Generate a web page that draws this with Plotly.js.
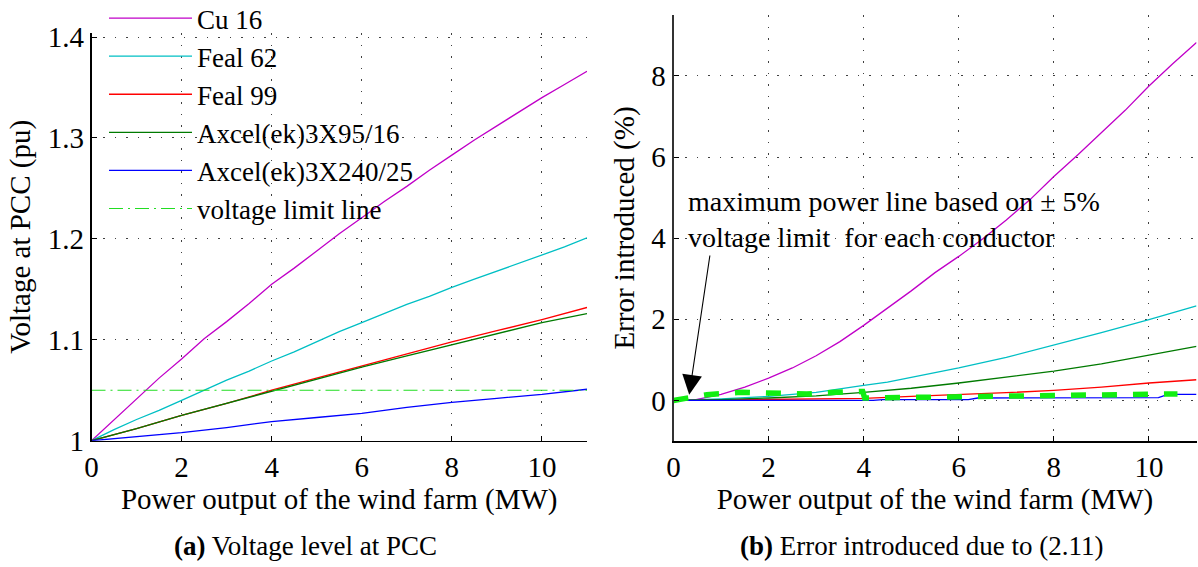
<!DOCTYPE html>
<html>
<head>
<meta charset="utf-8">
<script src="https://cdn.plot.ly/plotly-3.0.1.min.js"></script>
<style>
  html, body { margin: 0; padding: 0; background: #fff; }
  #chart { width: 1198px; height: 567px; }
</style>
</head>
<body>
<div id="chart"></div>
<script>
// ---------- DATA ----------
var seriesNames = ["Cu 16", "Feal 62", "Feal 99", "Axcel(ek)3X95/16", "Axcel(ek)3X240/25"];
var seriesColors = ["#c000c8", "#00bfc4", "#ff0000", "#007a00", "#0000ff"];

// (a) Voltage at PCC (pu)
var vX_cu16 = [0, 0.5, 1, 1.5, 2, 2.5, 3, 3.5, 4, 4.5, 5, 5.5, 6, 6.5, 7, 7.5, 8, 8.5, 9, 9.5, 10, 10.5, 11];
var vY_cu16 = [1.0, 1.021, 1.042, 1.062, 1.081, 1.101, 1.118, 1.136, 1.155, 1.171, 1.188, 1.205, 1.221, 1.237, 1.252, 1.268, 1.283, 1.298, 1.312, 1.326, 1.340, 1.353, 1.366];
var vX_feal62 = [0, 0.5, 1, 1.5, 2, 2.5, 3, 3.5, 4, 4.5, 5, 5.5, 6, 6.5, 7, 7.5, 8, 8.5, 9, 9.5, 10, 10.5, 11];
var vY_feal62 = [1.0, 1.011, 1.021, 1.030, 1.040, 1.050, 1.060, 1.069, 1.079, 1.088, 1.098, 1.108, 1.117, 1.126, 1.135, 1.143, 1.152, 1.160, 1.168, 1.176, 1.184, 1.192, 1.201];
var vX_feal99 = [0, 1, 2, 3, 4, 5, 6, 7, 8, 9, 10, 11];
var vY_feal99 = [1.0, 1.012, 1.025, 1.037, 1.050, 1.062, 1.074, 1.086, 1.098, 1.109, 1.120, 1.132];
var vX_ax95 = [0, 1, 2, 3, 4, 5, 6, 7, 8, 9, 10, 11];
var vY_ax95 = [1.0, 1.012, 1.025, 1.037, 1.049, 1.061, 1.073, 1.084, 1.095, 1.106, 1.117, 1.126];
var vX_ax240 = [0, 1, 2, 3, 4, 5, 6, 7, 8, 9, 10, 11];
var vY_ax240 = [1.0, 1.004, 1.008, 1.013, 1.019, 1.023, 1.027, 1.033, 1.038, 1.042, 1.046, 1.051];
var limitX = [0, 11];
var limitY = [1.05, 1.05];

// (b) Error introduced (%)
var eX_cu16 = [0, 0.4, 1, 1.5, 2, 2.5, 3, 3.5, 4, 4.5, 5, 5.5, 6, 6.5, 7, 7.5, 8, 8.5, 9, 9.5, 10, 10.5, 11];
var eY_cu16 = [0, 0, 0.15, 0.33, 0.55, 0.80, 1.10, 1.45, 1.85, 2.27, 2.70, 3.15, 3.55, 3.98, 4.45, 4.95, 5.52, 6.05, 6.60, 7.15, 7.75, 8.30, 8.82];
var eX_feal62 = [0, 1, 2, 3, 4, 4.5, 5, 6, 7, 8, 9, 10, 11];
var eY_feal62 = [0, 0.04, 0.10, 0.20, 0.37, 0.45, 0.57, 0.80, 1.06, 1.36, 1.67, 1.99, 2.33];
var eX_feal99 = [0, 1, 2, 3, 4, 5, 6, 7, 8, 9, 10, 11];
var eY_feal99 = [0, 0.01, 0.02, 0.03, 0.05, 0.10, 0.14, 0.19, 0.25, 0.33, 0.43, 0.51];
var eX_ax95 = [0, 1, 2, 3, 4, 5, 6, 7, 8, 9, 10, 11];
var eY_ax95 = [0, 0.02, 0.06, 0.11, 0.20, 0.30, 0.43, 0.58, 0.72, 0.90, 1.12, 1.33];
var eX_ax240 = [0, 4.2, 4.4, 6.2, 6.4, 8, 10.2, 10.4, 11];
var eY_ax240 = [0, 0, 0.02, 0.02, 0.06, 0.065, 0.07, 0.15, 0.15];
var maxPowerX = [0, 0.7, 1.4, 2.1, 2.8, 3.4, 3.98, 4.02, 5, 6, 7, 8, 9, 10, 10.6];
var maxPowerY = [0, 0.14, 0.20, 0.17, 0.16, 0.20, 0.22, 0.06, 0.07, 0.08, 0.10, 0.11, 0.13, 0.14, 0.16];

var xTicks = [0, 2, 4, 6, 8, 10];
var vTicks = [1, 1.1, 1.2, 1.3, 1.4];
var vTickText = ["1", "1.1", "1.2", "1.3", "1.4"];
var eTicks = [0, 2, 4, 6, 8];

var xTitle = "Power output of the wind farm (MW)";
var vTitle = "Voltage at PCC (pu)";
var eTitle = "Error introduced (%)";
var captionA = "<b>(a)</b> Voltage level at PCC";
var captionB = "<b>(b)</b> Error introduced due to (2.11)";
var noteText = "maximum power line based on \u00b1 5%<br>voltage limit  for each conductor";

// ---------- TRACES ----------
var vXs = [vX_cu16, vX_feal62, vX_feal99, vX_ax95, vX_ax240];
var vYs = [vY_cu16, vY_feal62, vY_feal99, vY_ax95, vY_ax240];
var eXs = [eX_cu16, eX_feal62, eX_feal99, eX_ax95, eX_ax240];
var eYs = [eY_cu16, eY_feal62, eY_feal99, eY_ax95, eY_ax240];

var traces = [];
for (var i = 0; i < seriesNames.length; i++) {
  traces.push({
    x: vXs[i], y: vYs[i], type: "scatter", mode: "lines",
    name: seriesNames[i], legendgroup: seriesNames[i],
    line: { color: seriesColors[i], width: 1.3 },
    xaxis: "x", yaxis: "y"
  });
}
traces.push({
  x: limitX, y: limitY, type: "scatter", mode: "lines",
  name: "voltage limit line",
  line: { color: "#22dd22", width: 1.1, dash: "14px,5px,2px,5px" },
  xaxis: "x", yaxis: "y"
});
for (var j = 0; j < seriesNames.length; j++) {
  traces.push({
    x: eXs[j], y: eYs[j], type: "scatter", mode: "lines",
    name: seriesNames[j], legendgroup: seriesNames[j], showlegend: false,
    line: { color: seriesColors[j], width: 1.3 },
    xaxis: "x2", yaxis: "y2"
  });
}
traces.push({
  x: maxPowerX, y: maxPowerY, type: "scatter", mode: "lines",
  name: "maximum power line", showlegend: false,
  line: { color: "#11ee11", width: 5.5, dash: "15px,16px" },
  xaxis: "x2", yaxis: "y2"
});

// ---------- LAYOUT ----------
var FONT = "'Liberation Serif', 'Times New Roman', Times, serif";
var W = 1198, H = 567;
function px(v) { return v / W; }
function py(v) { return 1 - v / H; }

var gridCommon = {
  showgrid: true, gridcolor: "rgba(0,0,0,0.75)", gridwidth: 1, griddash: "1.5px,10px",
  showline: true, linecolor: "#000", linewidth: 1.6,
  ticks: "inside", ticklen: 5, tickwidth: 1, tickcolor: "#000",
  zeroline: false, mirror: false, automargin: false,
  tickfont: { family: FONT, size: 29, color: "#000" }
};

var layout = {
  width: W, height: H,
  margin: { l: 0, r: 0, t: 0, b: 0, autoexpand: false },
  paper_bgcolor: "#fff", plot_bgcolor: "rgba(0,0,0,0)",
  font: { family: FONT, size: 28, color: "#000" },
  showlegend: true,
  legend: {
    x: px(104), y: py(-6), xanchor: "left", yanchor: "top",
    bgcolor: "rgba(0,0,0,0)", borderwidth: 0,
    font: { family: FONT, size: 27, color: "#000" },
    itemwidth: 83, tracegroupgap: 0
  },
  xaxis: Object.assign({}, gridCommon, {
    domain: [px(91.5), px(587)], range: [0, 11], anchor: "y",
    tickvals: xTicks,
    title: { text: xTitle, font: { family: FONT, size: 29 }, standoff: 4 }
  }),
  yaxis: Object.assign({}, gridCommon, {
    domain: [py(440.7), py(33)], range: [1, 1.404], anchor: "x",
    tickvals: vTicks, ticktext: vTickText,
    title: { text: vTitle, font: { family: FONT, size: 29 }, standoff: 8 }
  }),
  xaxis2: Object.assign({}, gridCommon, {
    domain: [px(673.5), px(1196.5)], range: [0, 11], anchor: "y2",
    tickvals: xTicks,
    title: { text: xTitle, font: { family: FONT, size: 29 }, standoff: 4 }
  }),
  yaxis2: Object.assign({}, gridCommon, {
    domain: [py(441), py(15)], range: [-1, 9.5], anchor: "x2",
    tickvals: eTicks, linecolor: "#333", linewidth: 2,
    title: { text: eTitle, font: { family: FONT, size: 29 }, standoff: 8 }
  }),
  annotations: [
    {
      xref: "x2", yref: "y2", x: 0.27, y: 4.45, xanchor: "left", yanchor: "middle",
      text: noteText, align: "left", showarrow: false,
      font: { family: FONT, size: 28, color: "#000" }
    },
    {
      xref: "x2", yref: "y2", axref: "x2", ayref: "y2",
      x: 0.33, y: 0.14, ax: 0.77, ay: 3.61,
      text: "", showarrow: true, arrowhead: 2, arrowsize: 3.6, arrowwidth: 1.1,
      arrowcolor: "#000", standoff: 0, startstandoff: 0
    },
    {
      xref: "paper", yref: "paper", x: px(305), y: py(546), xanchor: "center", yanchor: "middle",
      text: captionA, showarrow: false, font: { family: FONT, size: 27, color: "#000" }
    },
    {
      xref: "paper", yref: "paper", x: px(921), y: py(546), xanchor: "center", yanchor: "middle",
      text: captionB, showarrow: false, font: { family: FONT, size: 27, color: "#000" }
    }
  ]
};

Plotly.newPlot("chart", traces, layout, { displayModeBar: false, staticPlot: true });
</script>
</body>
</html>
